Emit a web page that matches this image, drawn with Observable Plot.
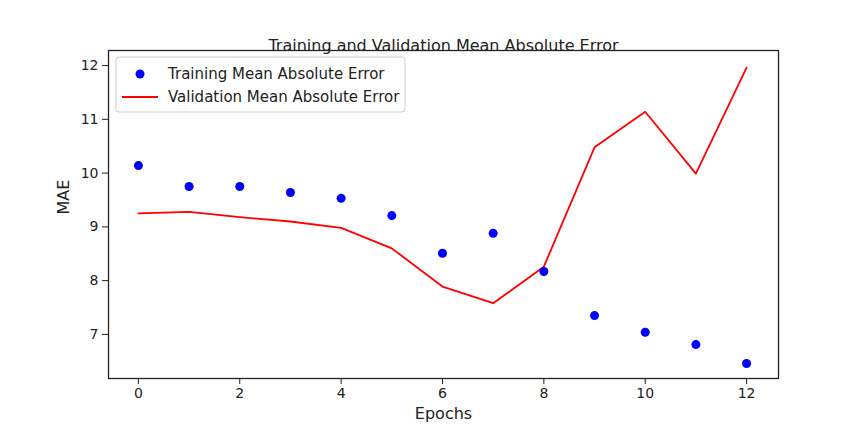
<!DOCTYPE html>
<html>
<head>
<meta charset="utf-8">
<script src="https://cdn.jsdelivr.net/npm/d3@7"></script>
<script src="https://cdn.jsdelivr.net/npm/@observablehq/plot@0.6"></script>
<style>
  body { margin: 0; background: #fff; }
  #plot { position: relative; width: 864px; height: 432px; }
</style>
</head>
<body>
<div id="plot"></div>
<script>
const epochs = [0, 1, 2, 3, 4, 5, 6, 7, 8, 9, 10, 11, 12];
const trainMae = [10.14, 9.75, 9.75, 9.64, 9.53, 9.21, 8.51, 8.88, 8.17, 7.35, 7.04, 6.81, 6.46];
const valMae = [9.25, 9.28, 9.18, 9.1, 8.98, 8.6, 7.89, 7.58, 8.26, 10.48, 11.14, 9.99, 11.96];
const xTicks = [0, 2, 4, 6, 8, 10, 12];
const yTicks = [7, 8, 9, 10, 11, 12];

const rows = epochs.map((e, i) => ({ epoch: e, train: trainMae[i], val: valMae[i] }));

const font = "'DejaVu Sans', sans-serif";

const plot = Plot.plot({
  width: 864,
  height: 432,
  marginLeft: 108,
  marginRight: 86,
  marginTop: 50,
  marginBottom: 54,
  style: { fontFamily: font, fontSize: "14px", color: "#222", background: "#fff" },
  x: { domain: [-0.59, 12.63], label: null },
  y: { domain: [6.18, 12.28], label: null },
  marks: [
    Plot.frame({ stroke: "#222", strokeWidth: 1.3 }),
    Plot.axisX({ ticks: xTicks, tickFormat: "d", tickSize: 6, tickPadding: 4, fontSize: 14, label: null }),
    Plot.axisY({ ticks: yTicks, tickFormat: "d", tickSize: 6, tickPadding: 4, fontSize: 14, label: null }),
    Plot.line(rows, { x: "epoch", y: "val", stroke: "red", strokeWidth: 1.8 }),
    Plot.dot(rows, { x: "epoch", y: "train", fill: "blue", r: 4.5 }),
    Plot.text(["Training and Validation Mean Absolute Error"], { frameAnchor: "top", dy: -11, fontSize: 16, fill: "#222" }),
    Plot.text(["Epochs"], { frameAnchor: "bottom", dy: 40, fontSize: 16, fill: "#222" }),
    Plot.text(["MAE"], { frameAnchor: "left", dx: -45, rotate: -90, fontSize: 16, fill: "#222" })
  ]
});

document.getElementById("plot").appendChild(plot);

// legend box, top-left inside the frame
const svg = d3.select(plot);
const g = svg.append("g").attr("font-family", font).attr("font-size", 15)
  .attr("fill", "#222").attr("text-anchor", "start");
g.append("rect").attr("x", 116).attr("y", 57).attr("width", 289).attr("height", 55)
  .attr("rx", 3).attr("fill", "#fff").attr("stroke", "#ccc");
g.append("circle").attr("cx", 140).attr("cy", 74).attr("r", 4.5).attr("fill", "blue");
g.append("text").attr("x", 168).attr("y", 79).text("Training Mean Absolute Error");
g.append("line").attr("x1", 122).attr("x2", 158).attr("y1", 97).attr("y2", 97)
  .attr("stroke", "red").attr("stroke-width", 1.8);
g.append("text").attr("x", 168).attr("y", 102).text("Validation Mean Absolute Error");
</script>
</body>
</html>
